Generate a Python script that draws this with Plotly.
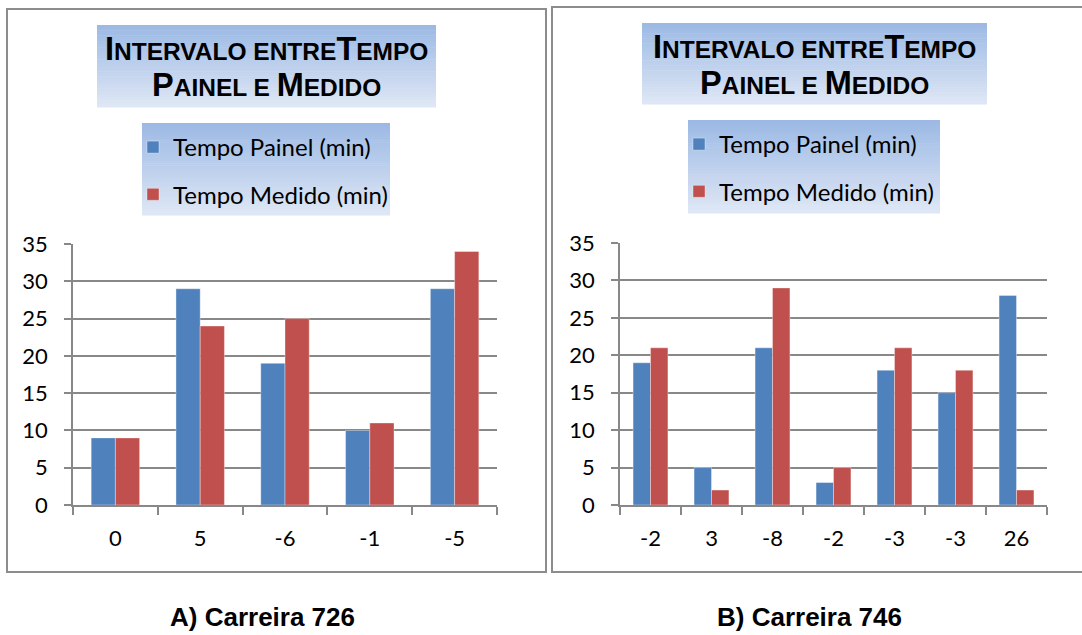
import plotly.graph_objects as go

W, H = 1082, 635

# ---- data -------------------------------------------------------------
cats_726 = ["0", "5", "-6", "-1", "-5"]
painel_726 = [9, 29, 19, 10, 29]
medido_726 = [9, 24, 25, 11, 34]

cats_746 = ["-2", "3", "-8", "-2", "-3", "-3", "26"]
painel_746 = [19, 5, 21, 3, 18, 15, 28]
medido_746 = [21, 2, 29, 5, 21, 18, 2]

y_ticks = [0, 5, 10, 15, 20, 25, 30, 35]
series_names = ["Tempo Painel (min)", "Tempo Medido (min)"]
captions = ["A) Carreira 726", "B) Carreira 746"]

# ---- styling ------------------------------------------------------------
BLUE = "#4F81BD"
RED = "#C0504D"
GRID = "#888888"
FRAME = "#8C8C8C"
BODY_FONT = "Lato"
TITLE_FONT = "Liberation Sans"


def px(x):
    return x / W


def py(y):
    return 1 - y / H


def lerp_color(c0, c1, t):
    return "rgb({},{},{})".format(*[round(a + (b - a) * t) for a, b in zip(c0, c1)])


shapes = []


def gradient_box(x0, y0, x1, y1, top=(156, 185, 228), bottom=(222, 231, 245), n=48):
    h = (y1 - y0) / n
    for i in range(n):
        shapes.append(dict(
            type="rect", xref="paper", yref="paper", layer="below",
            x0=px(x0), x1=px(x1), y0=py(y0 + i * h), y1=py(y0 + (i + 1) * h + 0.6),
            fillcolor=lerp_color(top, bottom, i / (n - 1)), line=dict(width=0),
        ))


# panel frames
for (x0, y0, x1, y1) in [(7, 9, 546, 572), (552, 7, 1095, 572)]:
    shapes.append(dict(type="rect", xref="paper", yref="paper", layer="below",
                       x0=px(x0), x1=px(x1), y0=py(y1), y1=py(y0),
                       line=dict(color=FRAME, width=2), fillcolor="rgba(0,0,0,0)"))

# title and legend backgrounds
gradient_box(97, 25, 436, 107)
gradient_box(142, 123, 390, 215)
gradient_box(642, 23, 987, 104)
gradient_box(688, 120, 940, 213)

fig = go.Figure()

panels = [
    (cats_726, painel_726, medido_726, "x", "y", "legend"),
    (cats_746, painel_746, medido_746, "x2", "y2", "legend2"),
]
for k, (cats, pain, med, xa, ya, lg) in enumerate(panels):
    pos = list(range(len(cats)))
    for name, vals, col, g in [(series_names[0], pain, BLUE, "p"), (series_names[1], med, RED, "m")]:
        fig.add_trace(go.Bar(
            x=pos, y=vals, name=name, xaxis=xa, yaxis=ya, legend=lg,
            legendgroup=f"{g}{k}",
            marker=dict(color=col, line=dict(color="rgba(255,255,255,0.45)", width=0.8)),
        ))


def small_caps(parts, big=32.5, small=24.5):
    out = []
    for s, is_big in parts:
        size = big if is_big else small
        out.append(f'<span style="font-size:{size}px">{s}</span>')
    return "".join(out)


title_l1 = small_caps([("I", True), ("NTERVALO ENTRE", False), ("T", True), ("EMPO", False)])
title_l2 = small_caps([("P", True), ("AINEL E ", False), ("M", True), ("EDIDO", False)])

annotations = []
for cx, y1, y2 in [(266.5, 49, 85), (814.5, 47, 83)]:
    for txt, yy in [(title_l1, y1), (title_l2, y2)]:
        annotations.append(dict(
            text=f"<b>{txt}</b>", x=px(cx), y=py(yy), xref="paper", yref="paper",
            xanchor="center", yanchor="middle", showarrow=False,
            font=dict(family=TITLE_FONT, size=32, color="black"),
        ))

for cx, txt in [(262, captions[0]), (809, captions[1])]:
    annotations.append(dict(
        text=f"<b>{txt}</b>", x=px(cx), y=py(617), xref="paper", yref="paper",
        xanchor="center", yanchor="middle", showarrow=False,
        font=dict(family=TITLE_FONT, size=26, color="black"),
    ))


def x_axis(cats, dom, anchor):
    n = len(cats)
    return dict(
        domain=[px(dom[0]), px(dom[1])], anchor=anchor,
        range=[-0.5, n - 0.5], tickmode="array",
        tickvals=list(range(n)), ticktext=cats,
        ticks="", ticklabelstandoff=13,
        tickfont=dict(family=BODY_FONT, size=22, color="black"),
        showline=True, linecolor=GRID, linewidth=1.5,
        showgrid=False, zeroline=False, fixedrange=True,
        minor=dict(tickmode="array", tickvals=[i - 0.5 for i in range(n + 1)],
                   ticks="outside", ticklen=8, tickcolor=GRID, tickwidth=1.5,
                   showgrid=False),
    )


def y_axis(dom, anchor):
    return dict(
        domain=[py(dom[1]), py(dom[0])], anchor=anchor,
        range=[0, 35], tickmode="array", tickvals=y_ticks,
        ticks="outside", ticklen=7, tickcolor=GRID, tickwidth=1.5,
        ticklabelstandoff=12,
        tickfont=dict(family=BODY_FONT, size=22, color="black"),
        showline=True, linecolor=GRID, linewidth=1.5,
        showgrid=True, gridcolor=GRID, gridwidth=1.5,
        zeroline=False, fixedrange=True,
    )


legend_common = dict(
    xanchor="left", yanchor="top", bgcolor="rgba(0,0,0,0)",
    font=dict(family=BODY_FONT, size=24, color="black"),
    tracegroupgap=13, orientation="v",
)

fig.update_layout(
    width=W, height=H,
    margin=dict(l=0, r=0, t=0, b=0, autoexpand=False),
    paper_bgcolor="white", plot_bgcolor="rgba(0,0,0,0)",
    barmode="group", bargap=1.5 / 3.5, bargroupgap=0,
    xaxis=x_axis(cats_726, (73, 497), "y"),
    yaxis=y_axis((244, 505), "x"),
    xaxis2=x_axis(cats_746, (620, 1047), "y2"),
    yaxis2=y_axis((243, 505), "x2"),
    legend=dict(x=px(133), y=py(125), **legend_common),
    legend2=dict(x=px(679), y=py(122), **legend_common),
    shapes=shapes,
    annotations=annotations,
    showlegend=True,
)

fig.write_html("out.html")
